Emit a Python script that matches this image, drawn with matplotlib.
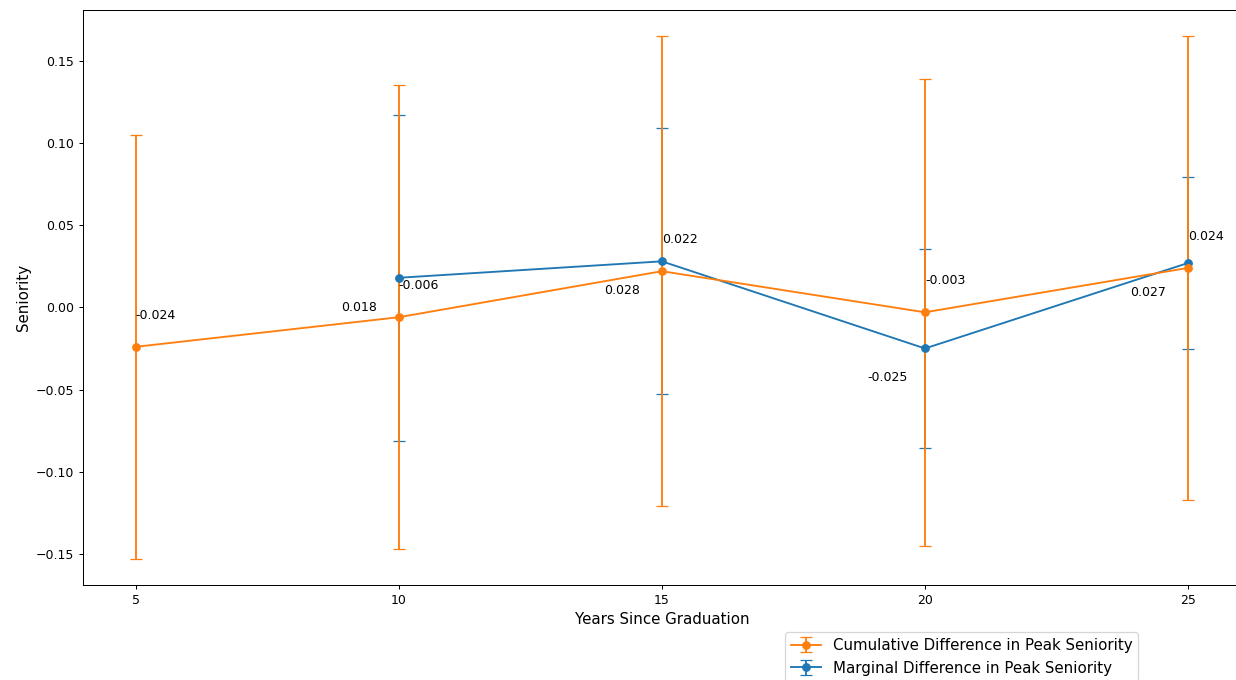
import matplotlib
matplotlib.use('Agg')
import matplotlib.pyplot as plt

years = [5, 10, 15, 20, 25]
cumulative = [-0.024, -0.006, 0.022, -0.003, 0.024]
cumulative_err = [0.129, 0.141, 0.143, 0.142, 0.141]

marginal_years = [10, 15, 20, 25]
marginal = [0.018, 0.028, -0.025, 0.027]
marginal_err = [0.099, 0.081, 0.0605, 0.0525]

fig = plt.figure(figsize=(1236 / 90, 680 / 90), dpi=90)
ax = fig.add_axes([0.0672, 0.1397, 0.9366, 0.8456])

# marginal first so the cumulative bars sit on top
h_marg = ax.errorbar(marginal_years, marginal, yerr=marginal_err, fmt='-o',
                     capsize=5, color='C0', label='Marginal Difference in Peak Seniority')
h_cum = ax.errorbar(years, cumulative, yerr=cumulative_err, fmt='-o',
                    capsize=5, color='C1', label='Cumulative Difference in Peak Seniority')

for x, y in zip(years, cumulative):
    ax.text(x, y + 0.017, f'{y:.3f}', fontsize=10)
for x, y in zip(marginal_years, marginal):
    ax.text(x - 1.1, y - 0.02, f'{y:.3f}', fontsize=10)

ax.set_xticks(years)
ax.set_xlabel('Years Since Graduation', fontsize=12)
ax.set_ylabel('Seniority', fontsize=12)
ax.legend(handles=[h_cum, h_marg], loc='upper left', bbox_to_anchor=(0.606, -0.082),
          borderaxespad=0, fontsize=12)

fig.savefig('out.png', dpi=90)
